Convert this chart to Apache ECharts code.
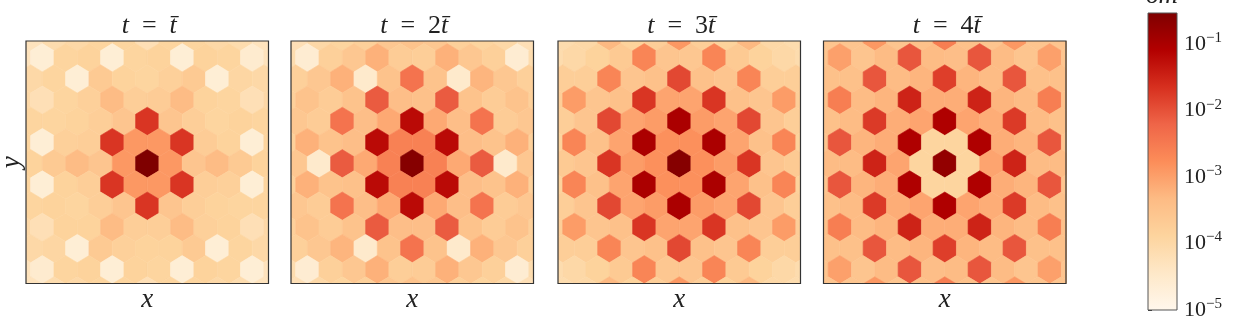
<!DOCTYPE html>
<html><head><meta charset="utf-8">
<script src="https://cdn.jsdelivr.net/npm/echarts@6/dist/echarts.min.js"></script>
<style>html,body{margin:0;padding:0;background:#fff}#c{width:1248px;height:317px}</style>
</head><body><div id="c"></div>
<script>
// ---- data (log10 of delta m per hexagonal cell; rows top to bottom, k = -6..6) ----
const panelTitles = ['{i|t}\u2002=\u2002{i|t\u0304}', '{i|t}\u2002=\u20022{i|t\u0304}', '{i|t}\u2002=\u20023{i|t\u0304}', '{i|t}\u2002=\u20024{i|t\u0304}'];
const xLabel = 'x';
const yLabel = 'y';
const cbTitle = '\u03b4m';
const cbTickExps = [-5, -4, -3, -2, -1];
const vMin = -5, vMax = -0.53;
const cmap = ['#fff7ec','#fee8c8','#fdd49e','#fdbb84','#fc8d59','#ef6548','#d7301f','#b30000','#7f0000'];

const panel1 = [
  [-4.3,-4.1,-4.0,-3.9,-3.9,-4.2,-3.9,-3.9,-4.0,-4.1,-4.3],
  [-4.3,-4.65,-3.9,-3.85,-4.65,-3.9,-3.85,-4.65,-3.85,-3.9,-4.55,-4.3],
  [-4.0,-3.9,-4.65,-3.65,-3.85,-3.9,-3.8,-3.65,-4.65,-3.95,-4.0],
  [-4.0,-4.2,-3.9,-3.8,-3.35,-3.75,-3.7,-3.35,-3.85,-3.9,-4.2,-4.0],
  [-3.9,-3.9,-3.85,-3.75,-3.55,-1.7,-3.55,-3.75,-3.9,-3.85,-3.9],
  [-3.9,-4.65,-3.8,-3.75,-1.7,-2.9,-2.9,-1.7,-3.7,-3.85,-4.65,-3.9],
  [-3.85,-3.65,-3.35,-3.55,-2.9,-0.53,-2.9,-3.55,-3.35,-3.65,-3.85],
  [-3.9,-4.65,-3.85,-3.75,-1.7,-2.9,-2.9,-1.7,-3.75,-3.8,-4.65,-3.9],
  [-3.9,-3.85,-3.9,-3.75,-3.55,-1.7,-3.55,-3.75,-3.85,-3.9,-3.9],
  [-4.0,-4.2,-3.85,-3.85,-3.35,-3.75,-3.75,-3.35,-3.8,-3.85,-4.2,-4.0],
  [-4.0,-3.95,-4.65,-3.65,-3.8,-3.85,-3.85,-3.65,-4.65,-3.9,-4.0],
  [-4.3,-4.55,-3.9,-3.85,-4.65,-3.85,-3.9,-4.65,-3.85,-3.9,-4.65,-4.3],
  [-4.3,-4.1,-4.0,-3.9,-3.9,-4.2,-3.9,-3.9,-4.0,-4.1,-4.3]
];
const panel2 = [
  [-4.2,-4.0,-3.9,-3.8,-3.6,-3.5,-3.6,-3.8,-3.9,-4.0,-4.2],
  [-4.1,-4.6,-3.8,-3.6,-3.2,-3.7,-3.75,-3.2,-3.6,-3.8,-4.6,-4.1],
  [-3.8,-3.6,-3.2,-4.5,-3.5,-2.4,-3.5,-4.5,-3.25,-3.6,-3.8],
  [-3.8,-3.5,-3.7,-3.5,-2.1,-3.4,-3.45,-2.1,-3.5,-3.7,-3.5,-3.8],
  [-3.6,-3.7,-2.4,-3.4,-3.1,-1.2,-3.1,-3.4,-2.4,-3.7,-3.6],
  [-3.8,-3.2,-3.5,-3.4,-1.2,-2.6,-2.6,-1.2,-3.4,-3.5,-3.2,-3.8],
  [-3.6,-4.5,-2.1,-3.1,-2.6,-0.6,-2.6,-3.1,-2.1,-4.5,-3.6],
  [-3.8,-3.2,-3.5,-3.45,-1.2,-2.6,-2.6,-1.2,-3.4,-3.5,-3.2,-3.8],
  [-3.6,-3.7,-2.4,-3.4,-3.1,-1.2,-3.1,-3.4,-2.4,-3.7,-3.6],
  [-3.8,-3.5,-3.7,-3.5,-2.1,-3.4,-3.4,-2.1,-3.5,-3.7,-3.5,-3.8],
  [-3.8,-3.6,-3.25,-4.5,-3.5,-2.4,-3.5,-4.5,-3.2,-3.6,-3.8],
  [-4.1,-4.6,-3.8,-3.6,-3.2,-3.75,-3.7,-3.2,-3.6,-3.8,-4.6,-4.1],
  [-4.2,-4.0,-3.9,-3.8,-3.6,-3.5,-3.6,-3.8,-3.9,-4.0,-4.2]
];
const panel3 = [
  [-4.1,-4.0,-3.3,-3.85,-3.75,-2.9,-3.75,-3.85,-3.3,-4.0,-4.1],
  [-4.1,-4.0,-3.85,-3.65,-2.65,-3.55,-3.6,-2.65,-3.65,-3.85,-4.0,-4.1],
  [-3.75,-3.75,-2.65,-3.55,-3.45,-1.9,-3.45,-3.55,-2.65,-3.75,-3.75],
  [-3.75,-2.95,-3.55,-3.45,-1.7,-3.05,-3.05,-1.7,-3.45,-3.55,-2.95,-3.75],
  [-3.75,-3.55,-1.9,-3.05,-2.95,-1.0,-2.95,-3.05,-1.9,-3.55,-3.75],
  [-3.85,-2.65,-3.45,-3.05,-1.0,-2.8,-2.8,-1.0,-3.05,-3.45,-2.65,-3.85],
  [-3.65,-3.55,-1.7,-2.95,-2.8,-0.6,-2.8,-2.95,-1.7,-3.55,-3.65],
  [-3.85,-2.65,-3.45,-3.05,-1.0,-2.8,-2.8,-1.0,-3.05,-3.45,-2.65,-3.85],
  [-3.75,-3.55,-1.9,-3.05,-2.95,-1.0,-2.95,-3.05,-1.9,-3.55,-3.75],
  [-3.75,-2.95,-3.55,-3.45,-1.7,-3.05,-3.05,-1.7,-3.45,-3.55,-2.95,-3.75],
  [-3.75,-3.75,-2.65,-3.55,-3.45,-1.9,-3.45,-3.55,-2.65,-3.75,-3.75],
  [-4.1,-4.0,-3.85,-3.65,-2.65,-3.6,-3.55,-2.65,-3.65,-3.85,-4.0,-4.1],
  [-4.1,-4.0,-3.3,-3.85,-3.75,-2.9,-3.75,-3.85,-3.3,-4.0,-4.1]
];
const panel4 = [
  [-3.55,-3.55,-2.9,-3.55,-3.45,-2.55,-3.45,-3.55,-2.9,-3.55,-3.55],
  [-3.55,-3.0,-3.55,-3.35,-2.05,-3.35,-3.4,-2.05,-3.35,-3.55,-3.0,-3.55],
  [-3.45,-3.45,-2.05,-3.35,-3.25,-1.8,-3.25,-3.35,-2.05,-3.45,-3.45],
  [-3.45,-2.55,-3.35,-3.25,-1.5,-3.15,-3.15,-1.5,-3.25,-3.35,-2.55,-3.45],
  [-3.45,-3.35,-1.75,-3.15,-3.05,-1.05,-3.05,-3.15,-1.75,-3.35,-3.45],
  [-3.55,-2.05,-3.25,-3.15,-1.05,-3.9,-3.9,-1.05,-3.15,-3.25,-2.05,-3.55],
  [-3.35,-3.35,-1.5,-3.05,-3.9,-0.75,-3.9,-3.05,-1.5,-3.35,-3.35],
  [-3.55,-2.05,-3.25,-3.15,-1.05,-3.9,-3.9,-1.05,-3.15,-3.25,-2.05,-3.55],
  [-3.45,-3.35,-1.75,-3.15,-3.05,-1.05,-3.05,-3.15,-1.75,-3.35,-3.45],
  [-3.45,-2.55,-3.35,-3.25,-1.5,-3.15,-3.15,-1.5,-3.25,-3.35,-2.55,-3.45],
  [-3.45,-3.45,-2.05,-3.35,-3.25,-1.8,-3.25,-3.35,-2.05,-3.45,-3.45],
  [-3.55,-3.0,-3.55,-3.35,-2.05,-3.4,-3.35,-2.05,-3.35,-3.55,-3.0,-3.55],
  [-3.55,-3.55,-2.9,-3.55,-3.45,-2.55,-3.45,-3.55,-2.9,-3.55,-3.55]
];
const panels = [panel1, panel2, panel3, panel4];

// ---- layout ----
const gridLefts = [26, 291, 558, 823.5];
const gridTop = 41, gridSize = 242.5;
const xRange = [-5.2, 5.2];
const yRange = [-5.79, 5.65];
const hexVerts = [[0,-2/3],[0.5,-1/3],[0.5,1/3],[0,2/3],[-0.5,1/3],[-0.5,-1/3]];
const serif = 'Liberation Serif';

function toCells(rows) {
  const out = [];
  rows.forEach((row, r) => {
    const k = r - 6;
    const off = row.length === 12 ? -5.5 : -5;
    row.forEach((v, j) => out.push([off + j, k, v]));
  });
  return out;
}
function renderHex(params, api) {
  const u = api.value(0), k = api.value(1);
  const pts = hexVerts.map(v => api.coord([u + v[0], k + v[1]]));
  const color = api.visual('color');
  return { type: 'polygon', shape: { points: pts }, style: { fill: color, stroke: color, lineWidth: 0.6 } };
}

const grids = [], xAxes = [], yAxes = [], series = [], graphics = [];
panels.forEach((p, i) => {
  grids.push({ left: gridLefts[i], top: gridTop, width: gridSize, height: gridSize, show: true,
    outerBoundsMode: 'none', containLabel: false,
    borderColor: '#333', borderWidth: 1.2, backgroundColor: 'transparent', z: 5 });
  xAxes.push({ gridIndex: i, type: 'value', min: xRange[0], max: xRange[1],
    axisLine: { show: false }, axisTick: { show: false }, axisLabel: { show: false }, splitLine: { show: false },
    name: xLabel, nameLocation: 'middle', nameGap: 3,
    nameTextStyle: { fontFamily: serif, fontStyle: 'italic', fontSize: 27, color: '#222' } });
  yAxes.push({ gridIndex: i, type: 'value', min: yRange[0], max: yRange[1], inverse: true,
    axisLine: { show: false }, axisTick: { show: false }, axisLabel: { show: false }, splitLine: { show: false },
    name: i === 0 ? yLabel : '', nameLocation: 'middle', nameGap: 1, nameRotate: 90,
    nameTextStyle: { fontFamily: serif, fontStyle: 'italic', fontSize: 27, color: '#222' } });
  series.push({ type: 'custom', xAxisIndex: i, yAxisIndex: i, clip: true,
    encode: { x: 0, y: 1 }, renderItem: renderHex, data: toCells(p) });
  graphics.push({ type: 'text', x: gridLefts[i] + gridSize / 2 + 2, y: 26,
    style: { text: panelTitles[i], align: 'center', verticalAlign: 'middle', fontFamily: serif, fontSize: 26, fill: '#222',
      rich: { i: { fontFamily: serif, fontStyle: 'italic', fontSize: 26, fill: '#222' } } } });
});

// colorbar
grids.push({ left: 1148, top: 13, width: 29, height: 297, show: true, outerBoundsMode: 'none', containLabel: false,
  borderColor: '#555', borderWidth: 1, z: 5 });
xAxes.push({ gridIndex: 4, type: 'value', min: 0, max: 1, show: false });
yAxes.push({ gridIndex: 4, type: 'value', min: vMin, max: vMax, interval: 1, position: 'right',
  axisLine: { show: false }, splitLine: { show: false },
  axisTick: { show: true, length: 4, lineStyle: { color: '#333' }, customValues: cbTickExps },
  axisLabel: { customValues: cbTickExps, margin: 7, color: '#222',
    formatter: v => Number.isInteger(v) ? '{b|10}{s|\u2212' + (-v) + '}' : '',
    rich: { b: { fontFamily: serif, fontSize: 22, color: '#222', lineHeight: 27 },
            s: { fontFamily: serif, fontSize: 15, color: '#222', verticalAlign: 'top' } } } });
series.push({ type: 'custom', xAxisIndex: 4, yAxisIndex: 4, data: [[0, vMin, 1, vMax]],
  encode: { x: [0, 2], y: [1, 3] },
  renderItem: (params, api) => {
    const p0 = api.coord([api.value(0), api.value(3)]);
    const p1 = api.coord([api.value(2), api.value(1)]);
    const stops = cmap.map((c, j) => ({ offset: j / (cmap.length - 1), color: c }));
    return { type: 'rect', shape: { x: p0[0], y: p0[1], width: p1[0] - p0[0], height: p1[1] - p0[1] },
      style: { fill: new echarts.graphic.LinearGradient(0, 1, 0, 0, stops) } };
  } });
graphics.push({ type: 'text', x: 1162, y: 9,
  style: { text: cbTitle, align: 'center', verticalAlign: 'bottom', fontFamily: serif, fontStyle: 'italic', fontSize: 27, fill: '#222' } });

const chart = echarts.init(document.getElementById('c'), null, { renderer: 'canvas' });
chart.setOption({
  animation: false,
  backgroundColor: '#fff',
  grid: grids, xAxis: xAxes, yAxis: yAxes, series: series, graphic: graphics,
  visualMap: { type: 'continuous', show: false, min: vMin, max: vMax, dimension: 2, seriesIndex: [0, 1, 2, 3],
    inRange: { color: cmap } }
});
</script></body></html>
